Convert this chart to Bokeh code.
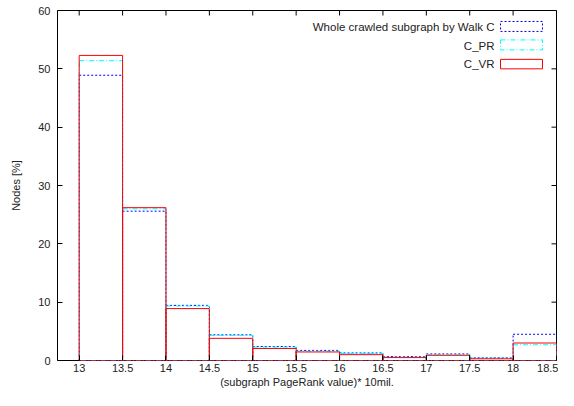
import math
from bokeh.plotting import figure
from bokeh.models import ColumnDataSource, Range1d, FixedTicker, Label, BoxAnnotation
from bokeh.embed import file_html
from bokeh.resources import INLINE

# ---- data ----
bin_left = [13.0, 13.5, 14.0, 14.5, 15.0, 15.5, 16.0, 16.5, 17.0, 17.5, 18.0]
bin_width = 0.5
walk_c = [48.9, 25.6, 9.45, 4.4, 2.4, 1.73, 1.29, 0.67, 1.12, 0.45, 4.5]
c_pr = [51.4, 26.0, 9.35, 4.3, 2.3, 1.6, 1.2, 0.6, 1.0, 0.4, 2.7]
c_vr = [52.3, 26.2, 8.9, 3.8, 2.06, 1.46, 1.0, 0.5, 0.89, 0.29, 3.0]
series_names = ["Whole crawled subgraph by Walk C", "C_PR", "C_VR"]
x_ticks = [13, 13.5, 14, 14.5, 15, 15.5, 16, 16.5, 17, 17.5, 18, 18.5]
x_tick_labels = ["13", "13.5", "14", "14.5", "15", "15.5", "16", "16.5", "17", "17.5", "18", "18.5"]
y_ticks = [0, 10, 20, 30, 40, 50, 60]

FONT = "Liberation Sans"
XR = (12.75, 18.5)
YR = (0, 60)
W, H = 558, 390
BL, BT, BR, BB = 57, 10, 2, 26

p = figure(width=W, height=H, output_backend="svg", toolbar_location=None,
           x_range=Range1d(*XR), y_range=Range1d(*YR),
           min_border_left=BL, min_border_top=BT, min_border_right=BR, min_border_bottom=BB)
p.xgrid.visible = False
p.ygrid.visible = False
p.outline_line_color = "black"
p.outline_line_width = 1
p.outline_line_alpha = 1

for ax in (p.xaxis[0], p.yaxis[0]):
    ax.major_tick_in = 5
    ax.major_tick_out = 0
    ax.minor_tick_line_color = None
    ax.axis_line_color = None
    ax.major_tick_line_color = "black"
    ax.major_label_text_font = FONT
    ax.major_label_text_font_size = "11px"
    ax.major_label_text_color = "#222222"
    ax.axis_label_text_font = FONT
    ax.axis_label_text_font_size = "11px"
    ax.axis_label_text_font_style = "normal"
    ax.axis_label_text_color = "#222222"

p.xaxis.ticker = FixedTicker(ticks=x_ticks)
p.xaxis.major_label_overrides = {t: l for t, l in zip(x_ticks, x_tick_labels)}
p.yaxis.ticker = FixedTicker(ticks=y_ticks)
p.xaxis.axis_label = "(subgraph PageRank value)* 10mil."
p.yaxis.axis_label = "Nodes [%]"
p.xaxis.major_label_standoff = 3
p.xaxis.axis_label_standoff = 1
p.yaxis.major_label_standoff = 7
p.yaxis.axis_label_standoff = 13

# mirrored inward ticks on top and right edges (gnuplot style)
p.ray(x=x_ticks, y=YR[1], length=5, length_units="screen", angle=-math.pi / 2,
      line_color="black", line_width=1)
p.ray(x=XR[1], y=y_ticks, length=5, length_units="screen", angle=math.pi,
      line_color="black", line_width=1)

styles = [
    dict(line_color="#0000ff", line_dash="2 2"),
    dict(line_color="#00ffff", line_dash="5 2 1 2"),
    dict(line_color="#ff0000", line_dash="solid"),
]
left = bin_left
right = [b + bin_width for b in bin_left]
for vals, st in zip([walk_c, c_pr, c_vr], styles):
    src = ColumnDataSource(dict(left=left, right=right, top=vals, bottom=[0] * len(vals)))
    p.quad(left="left", right="right", top="top", bottom="bottom", source=src,
           fill_alpha=0, line_width=1, **st)

# ---- legend (gnuplot style: text left of sample box), placed in frame pixels ----
FW = W - BL - BR
FH = H - BT - 29  # approx. frame height (bottom axis takes ~29px)

def dx(px):
    return XR[0] + px * (XR[1] - XR[0]) / FW

def dy(py):
    return YR[1] - py * (YR[1] - YR[0]) / FH

text_right = 437
box_l, box_r = 443, 485
rows = [(16.7, 11, 21), (35.3, 29.5, 39.5), (53.7, 49, 58.5)]
for name, st, (cy, bt, bb) in zip(series_names, styles, rows):
    p.add_layout(Label(x=dx(text_right), y=dy(cy), text=name, text_align="right",
                       text_baseline="middle", text_font=FONT, text_font_size="11.5px",
                       text_color="#222222"))
    p.add_layout(BoxAnnotation(left=dx(box_l), right=dx(box_r), top=dy(bt), bottom=dy(bb),
                               fill_alpha=0, line_width=1, line_alpha=1,
                               line_color=st["line_color"], line_dash=st["line_dash"]))

open("out.html", "w").write(file_html(p, INLINE))
